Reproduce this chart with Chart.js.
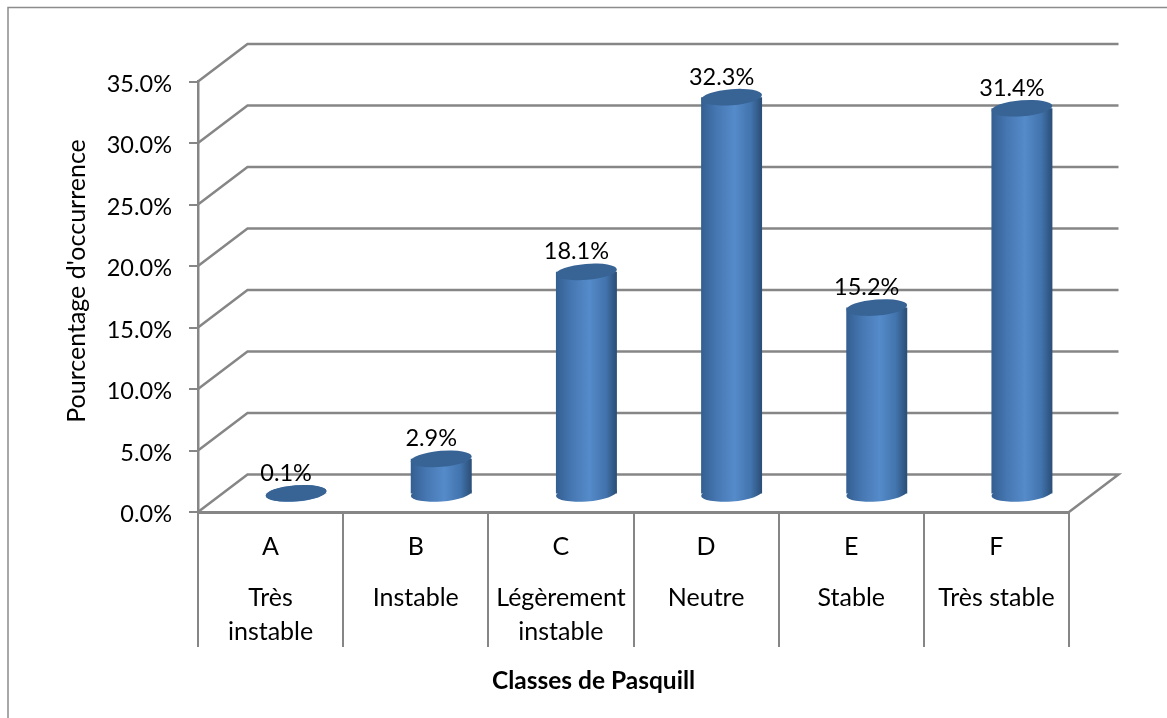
<!DOCTYPE html>
<html>
<head>
<meta charset="utf-8">
<script src="https://cdn.jsdelivr.net/npm/chart.js@4"></script>
<style>
body { margin: 0; background: #fff; }
canvas { display: block; }
</style>
</head>
<body>
<canvas id="graphique" width="1167" height="718"></canvas>
<script>
const classes = ["A", "B", "C", "D", "E", "F"];
const noms = [["Très", "instable"], ["Instable"], ["Légèrement", "instable"], ["Neutre"], ["Stable"], ["Très stable"]];
const occurrence = [0.1, 2.9, 18.1, 32.3, 15.2, 31.4];
const titreX = "Classes de Pasquill";
const titreY = "Pourcentage d'occurrence";

const police = "Lato, sans-serif";
const gris = "#868686";
// decalage de la perspective
const fond = { x: 49.5, y: -37.5 };
const milieu = { x: 25.5, y: -17.5 };

// lignes vides pour garder l'ecart entre les deux niveaux d'etiquettes
const etiquettes = classes.map((c, i) => {
    const lignes = [c, "", ""];
    noms[i].forEach((n, j) => {
        if (j > 0) lignes.push("");
        lignes.push(n);
    });
    return lignes;
});

function degrade(ctx) {
    const chart = ctx.chart;
    const x = chart.scales.x ? chart.scales.x.getPixelForValue(ctx.dataIndex) : NaN;
    // les echelles ne sont pas encore pretes au premier passage
    if (!isFinite(x)) return "#4273ad";
    const g = chart.ctx.createLinearGradient(x - 30, 0, x + 30, 0);
    g.addColorStop(0, "#345f92");
    g.addColorStop(0.25, "#4677b2");
    g.addColorStop(0.55, "#558bca");
    g.addColorStop(0.82, "#4274ad");
    g.addColorStop(1, "#2b4f78");
    return g;
}

const cylindre = {
    id: "cylindre",
    beforeDraw(chart) {
        const c = chart.ctx;
        c.save();
        c.strokeStyle = "#8c8c8c";
        c.lineWidth = 1.5;
        c.beginPath();
        c.moveTo(8, 718);
        c.lineTo(8, 7.5);
        c.lineTo(1167, 7.5);
        c.stroke();
        c.restore();
    },
    beforeDatasetsDraw(chart) {
        const c = chart.ctx;
        const { left, right } = chart.chartArea;
        const y = chart.scales.y;
        c.save();
        c.strokeStyle = gris;
        c.lineWidth = 2.5;
        y.ticks.forEach(t => {
            const py = y.getPixelForValue(t.value);
            c.beginPath();
            c.moveTo(left, py);
            c.lineTo(left + fond.x, py + fond.y);
            c.lineTo(right + fond.x, py + fond.y);
            if (t.value === 0) c.lineTo(right, py);
            c.stroke();
        });
        c.restore();
    },
    beforeDatasetDraw(chart, args) {
        const c = chart.ctx;
        c.save();
        c.translate(milieu.x, milieu.y);
        args.meta.data.forEach(bar => {
            const w = bar.width / 2;
            c.fillStyle = bar.options.backgroundColor;
            c.beginPath();
            c.ellipse(bar.x, bar.base, w, 8, -0.08, 0, Math.PI * 2);
            c.fill();
        });
    },
    afterDatasetDraw(chart, args) {
        const c = chart.ctx;
        args.meta.data.forEach(bar => {
            const w = bar.width / 2;
            c.fillStyle = "#376395";
            c.beginPath();
            c.ellipse(bar.x, bar.y, w, 8, -0.08, 0, Math.PI * 2);
            c.fill();
        });
        c.restore();
    },
    afterDatasetsDraw(chart) {
        const c = chart.ctx;
        const meta = chart.getDatasetMeta(0);
        c.save();
        c.fillStyle = "#000";
        c.font = "23.5px " + police;
        c.textAlign = "center";
        c.textBaseline = "middle";
        meta.data.forEach((bar, i) => {
            c.fillText(occurrence[i].toFixed(1) + "%", bar.x + milieu.x - 10, bar.y + milieu.y - 20);
        });
        c.font = "bold 24.5px " + police;
        c.fillText(titreX, 593.5, 681);
        c.translate(77, 281);
        c.rotate(-Math.PI / 2);
        c.font = "25px " + police;
        c.fillText(titreY, 0, 0);
        c.restore();
    }
};

new Chart(document.getElementById("graphique"), {
    type: "bar",
    data: {
        labels: etiquettes,
        datasets: [{
            data: occurrence,
            backgroundColor: degrade,
            barPercentage: 0.42,
            categoryPercentage: 1,
            clip: false
        }]
    },
    plugins: [cylindre],
    options: {
        responsive: false,
        animation: false,
        layout: { padding: { top: 81.5, right: 98, bottom: 0, left: 0 } },
        plugins: { legend: { display: false }, tooltip: { enabled: false } },
        scales: {
            x: {
                afterFit(s) { s.height = 206; },
                grid: {
                    offset: true,
                    drawOnChartArea: false,
                    color: gris,
                    lineWidth: 2,
                    tickLength: 135
                },
                border: { color: gris, width: 3 },
                ticks: {
                    autoSkip: false,
                    maxRotation: 0,
                    minRotation: 0,
                    padding: -109,
                    color: "#000",
                    font: { family: police, size: 25, lineHeight: "17px" }
                }
            },
            y: {
                min: 0,
                max: 35,
                afterFit(s) { s.width = 198; },
                grid: {
                    drawOnChartArea: false,
                    color: gris,
                    lineWidth: 2,
                    tickLength: 9
                },
                border: { color: gris, width: 2.5 },
                ticks: {
                    stepSize: 5,
                    padding: 17,
                    color: "#000",
                    font: { family: police, size: 23.5, lineHeight: "5px" },
                    // ligne vide devant pour descendre le texte de 2px
                    callback: v => ["", v.toFixed(1) + "%"]
                }
            }
        }
    }
});
</script>
</body>
</html>
